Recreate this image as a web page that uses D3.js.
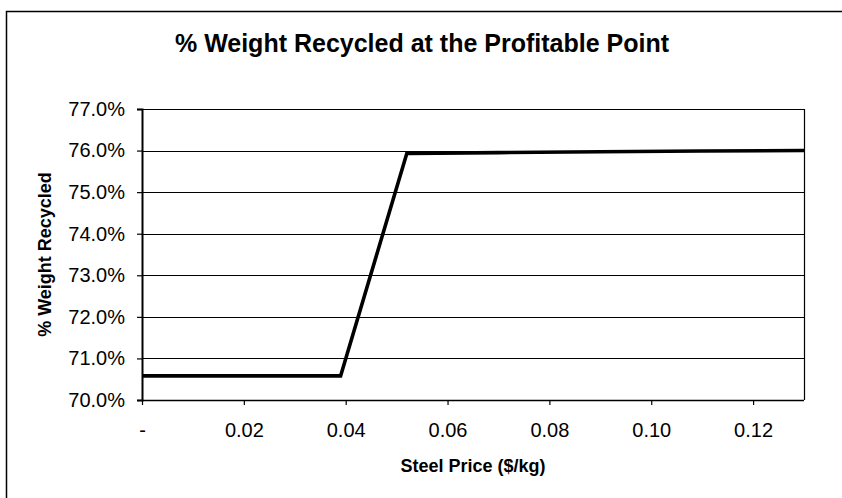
<!DOCTYPE html>
<html>
<head>
<meta charset="utf-8">
<script src="https://cdn.jsdelivr.net/npm/d3@7/dist/d3.min.js"></script>
<style>
  html, body { margin: 0; padding: 0; background: #fff; }
  svg { display: block; }
  text { font-family: "Liberation Sans", Arial, sans-serif; fill: #000; }
</style>
</head>
<body>
<svg id="chart" width="842" height="498"></svg>
<script>
// Data
const steelPrice = [0, 0.039, 0.052, 0.07, 0.09, 0.11, 0.13];
const pctRecycled = [70.58, 70.58, 75.93, 75.95, 75.97, 75.99, 76.0];
const yTicks = [70, 71, 72, 73, 74, 75, 76, 77];
const xTicks = [0, 0.02, 0.04, 0.06, 0.08, 0.10, 0.12];
const titleText = "% Weight Recycled at the Profitable Point";
const xLabel = "Steel Price ($/kg)";
const yLabel = "% Weight Recycled";

const svg = d3.select("#chart");
const m = { left: 142, right: 804, top: 109, bottom: 400 };

// outer frame (right/bottom outside view)
svg.append("rect").attr("x", 6.5).attr("y", 11.5).attr("width", 860).attr("height", 520)
  .attr("fill", "none").attr("stroke", "#000").attr("stroke-width", 1.5);

const x = d3.scaleLinear().domain([0, 0.13]).range([m.left, m.right]);
const y = d3.scaleLinear().domain([70, 77]).range([m.bottom, m.top]);

// gridlines
svg.append("g").selectAll("line").data(yTicks.filter(d => d > 70)).join("line")
  .attr("x1", m.left).attr("x2", m.right)
  .attr("y1", d => Math.round(y(d)) + 0.5).attr("y2", d => Math.round(y(d)) + 0.5)
  .attr("stroke", "#000").attr("stroke-width", 1);

// right border of plot
svg.append("line").attr("x1", m.right + 0.5).attr("x2", m.right + 0.5)
  .attr("y1", m.top).attr("y2", m.bottom).attr("stroke", "#000").attr("stroke-width", 1.2);

// y axis
const yAxis = d3.axisLeft(y).tickValues(yTicks).tickSize(5).tickPadding(12)
  .tickFormat(d => d.toFixed(1) + "%");
const gy = svg.append("g").attr("transform", `translate(${m.left},0)`).call(yAxis);
gy.select(".domain").attr("stroke", "#000").attr("stroke-width", 2);
gy.selectAll(".tick line").attr("stroke", "#000").attr("stroke-width", 1.2);
gy.selectAll("text").attr("font-size", 20).attr("font-family", "Liberation Sans, Arial, sans-serif").attr("fill", "#000");

// x axis
const xAxis = d3.axisBottom(x).tickValues(xTicks).tickSize(5).tickPadding(18)
  .tickFormat(d => d === 0 ? "-" : d.toFixed(2));
const gx = svg.append("g").attr("transform", `translate(0,${m.bottom})`).call(xAxis);
gx.select(".domain").attr("stroke", "#000").attr("stroke-width", 1.5).attr("d", `M${m.left},0.5H${m.right}`);
gx.selectAll(".tick line").attr("stroke", "#000").attr("stroke-width", 1.2);
gx.selectAll("text").attr("font-size", 20).attr("font-family", "Liberation Sans, Arial, sans-serif").attr("fill", "#000");

// data line
const pts = steelPrice.map((d, i) => [d, pctRecycled[i]]);
svg.append("path").datum(pts)
  .attr("d", d3.line().x(d => x(d[0])).y(d => y(d[1])))
  .attr("fill", "none").attr("stroke", "#000").attr("stroke-width", 3.6)
  .attr("stroke-linejoin", "miter");

// title
svg.append("text").attr("x", 422).attr("y", 52).attr("text-anchor", "middle")
  .attr("font-size", 25).attr("font-weight", "bold").text(titleText);

// axis labels
svg.append("text").attr("x", (m.left + m.right) / 2).attr("y", 472).attr("text-anchor", "middle")
  .attr("font-size", 18).attr("font-weight", "bold").text(xLabel);
svg.append("text").attr("transform", `translate(51,${(m.top + m.bottom) / 2}) rotate(-90)`)
  .attr("text-anchor", "middle").attr("font-size", 18).attr("font-weight", "bold").text(yLabel);
</script>
</body>
</html>
